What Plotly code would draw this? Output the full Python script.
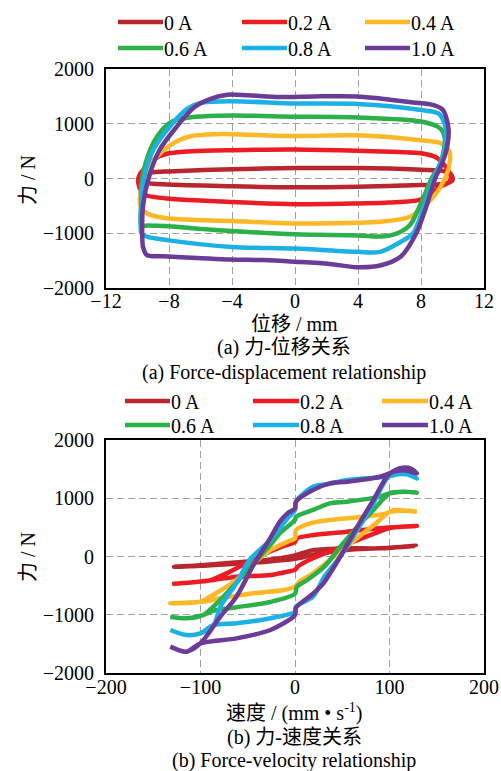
import plotly.graph_objects as go

# ---------------- data ----------------
CURRENTS = ["0 A", "0.2 A", "0.4 A", "0.6 A", "0.8 A", "1.0 A"]
COLORS = ["#b8272e", "#ed1c24", "#fdb827", "#2bb04a", "#1cb1e6", "#6a3c97"]

X_TICKS_A = [-12, -8, -4, 0, 4, 8, 12]
X_TICKS_B = [-200, -100, 0, 100, 200]
Y_TICKS = [-2000, -1000, 0, 1000, 2000]

# (a) force-displacement loops: displacement (mm), force (N)
DISP_00 = [-9.9, -9.6, -9.0, -8.0, -4.0, 0.0, 4.0, 8.0, 9.4, 9.9, 10.0, 9.4, 8.0, 4.0, 0.0, -4.0, -8.0, -9.5, -9.9]
FORCE_D_00 = [0, 80, 115, 130, 170, 190, 190, 160, 140, 80, -30, -100, -120, -150, -160, -140, -110, -75, 0]

DISP_02 = [-9.95, -9.8, -9.4, -8.8, -8.0, -6.5, -4.0, 0.0, 4.0, 8.0, 9.0, 9.6, 9.9, 9.8, 9.1, 8.0, 6.0, 4.0, 0.0, -4.0, -8.15, -9.4, -9.75, -9.95, -9.95]
FORCE_D_02 = [0, 100, 220, 380, 460, 500, 518, 530, 506, 460, 380, 200, 20, -60, -170, -380, -440, -455, -470, -430, -365, -310, -240, -80, 0]

DISP_04 = [-9.85, -9.8, -9.6, -9.2, -8.5, -7.5, -6.5, -5.0, -4.0, 0.0, 4.0, 8.0, 9.3, 9.8, 9.85, 9.6, 8.8, 7.3, 5.4, 4.0, 0.0, -4.0, -8.0, -9.3, -9.7, -9.85]
FORCE_D_04 = [-450, -250, 0, 250, 480, 680, 780, 810, 810, 775, 790, 700, 640, 500, 350, 50, -330, -700, -790, -810, -820, -775, -730, -650, -560, -450]

DISP_06 = [-9.75, -9.75, -9.7, -9.2, -8.6, -7.8, -6.8, -5.5, -4.0, 0.0, 4.0, 8.0, 9.2, 9.5, 9.4, 9.1, 8.67, 8.0, 7.3, 6.5, 5.5, 4.0, 0.0, -4.0, -6.0, -8.0, -9.3, -9.75]
FORCE_D_06 = [-850, -400, 0, 520, 830, 1040, 1110, 1140, 1150, 1130, 1115, 1040, 920, 750, 450, 200, 0, -450, -850, -1000, -1060, -1040, -1020, -960, -920, -870, -860, -850]

DISP_08 = [-9.75, -9.75, -9.6, -9.0, -7.8, -6.8, -6.0, -4.0, 0.0, 4.0, 8.0, 9.1, 9.5, 9.6, 9.4, 8.8, 8.2, 7.5, 6.7, 5.4, 4.0, 0.0, -4.0, -8.0, -9.4, -9.75]
FORCE_D_08 = [-1000, -500, 0, 520, 1000, 1280, 1380, 1410, 1370, 1360, 1250, 1190, 1000, 780, 400, 0, -500, -1000, -1160, -1340, -1340, -1280, -1250, -1130, -1060, -1000]

DISP_10 = [-9.7, -9.65, -9.3, -8.6, -7.5, -6.4, -5.4, -4.3, -3.0, -1.0, 1.2, 3.9, 5.4, 7.5, 8.8, 9.4, 9.75, 9.6, 9.3, 8.9, 8.35, 7.7, 6.7, 5.4, 3.9, 2.2, 0.0, -2.0, -4.1, -6.2, -8.4, -9.4, -9.65, -9.7]
FORCE_D_10 = [-1000, -500, 0, 520, 950, 1300, 1450, 1530, 1520, 1490, 1500, 1500, 1460, 1390, 1340, 1250, 900, 500, 250, 0, -500, -1000, -1430, -1590, -1620, -1560, -1520, -1490, -1480, -1450, -1420, -1400, -1250, -1000]

# (b) force-velocity loops: velocity (mm/s), force (N)
VEL_00 = [-128, -100, -60, -30, 0, 20, 55, 90, 128, 100, 60, 30, 0, -30, -60, -100, -128]
FORCE_V_00 = [-175, -150, -100, -60, 20, 110, 140, 140, 185, 150, 120, 60, -40, -90, -120, -160, -175]

VEL_02 = [-130, -110, -90, -70, -50, -30, -10, 0, 2, 20, 55, 90, 129, 100, 90, 62, 41, 19, 3, 0, -8, -26, -62, -86, -110, -130]
FORCE_V_02 = [-470, -445, -410, -270, -100, 60, 190, 250, 310, 370, 426, 484, 524, 490, 430, 254, 112, -30, -170, -230, -260, -318, -347, -403, -445, -470]

VEL_04 = [-132, -100, -90, -62, -44, -26, -8, 0, 1, 16, 37, 72, 97, 104, 115, 129, 115, 100, 85, 72, 55, 37, 19, 5, 0, -12, -44, -79, -97, -132]
FORCE_V_04 = [-804, -775, -690, -403, -117, 112, 254, 312, 455, 570, 627, 683, 740, 798, 790, 770, 790, 760, 560, 398, 170, -60, -288, -430, -518, -575, -632, -718, -775, -804]

VEL_06 = [-132, -115, -97, -80, -62, -44, -26, -16, 0, 1, 19, 37, 55, 90, 100, 115, 129, 115, 100, 83, 66, 48, 31, 13, 2, 0, -26, -62, -86, -97, -115, -132]
FORCE_V_06 = [-1033, -1061, -1004, -760, -450, -120, 200, 400, 627, 684, 800, 913, 941, 1027, 1084, 1113, 1096, 1110, 1084, 798, 512, 170, -175, -403, -520, -640, -780, -870, -930, -1004, -1061, -1033]

VEL_08 = [-132, -115, -100, -86, -79, -62, -48, -26, -8, 0, 1, 19, 37, 55, 90, 100, 118, 129, 118, 100, 83, 66, 48, 31, 19, 1, 0, -26, -62, -86, -100, -115, -132]
FORCE_V_08 = [-1262, -1348, -1318, -1176, -861, -461, -60, 283, 655, 798, 941, 1198, 1250, 1313, 1360, 1383, 1428, 1342, 1410, 1383, 913, 455, 0, -347, -690, -861, -947, -1061, -1147, -1176, -1318, -1348, -1262]

VEL_10 = [-132, -115, -100, -79, -62, -44, -26, -16, -8, 0, 1, 19, 37, 55, 90, 100, 111, 122, 129, 115, 100, 83, 66, 48, 30, 19, 1, 0, -26, -62, -100, -115, -132]
FORCE_V_10 = [-1548, -1634, -1490, -1033, -690, -150, 320, 598, 740, 827, 941, 1142, 1256, 1284, 1370, 1428, 1514, 1514, 1428, 1480, 1420, 970, 512, 0, -461, -640, -880, -1004, -1262, -1405, -1490, -1634, -1548]

DISP = [DISP_00, DISP_02, DISP_04, DISP_06, DISP_08, DISP_10]
FORCE_D = [FORCE_D_00, FORCE_D_02, FORCE_D_04, FORCE_D_06, FORCE_D_08, FORCE_D_10]
VEL = [VEL_00, VEL_02, VEL_04, VEL_06, VEL_08, VEL_10]
FORCE_V = [FORCE_V_00, FORCE_V_02, FORCE_V_04, FORCE_V_06, FORCE_V_08, FORCE_V_10]

# ---------------- figure ----------------
W, H = 501, 771
FONT = "Liberation Serif, Times New Roman, Noto Sans CJK SC, serif"
FS = 20
LW = 4.5

def px(x):
    return x / W

def py(y):
    return 1 - y / H

fig = go.Figure()
for i in range(6):
    fig.add_trace(go.Scatter(x=DISP[i], y=FORCE_D[i], mode="lines", name=CURRENTS[i],
                             line=dict(color=COLORS[i], width=LW, shape="spline", smoothing=0.8),
                             xaxis="x", yaxis="y", showlegend=False, hoverinfo="skip"))
for i in range(6):
    fig.add_trace(go.Scatter(x=VEL[i], y=FORCE_V[i], mode="lines", name=CURRENTS[i],
                             line=dict(color=COLORS[i], width=LW, shape="spline", smoothing=0.8),
                             xaxis="x2", yaxis="y2", showlegend=False, hoverinfo="skip"))

axis_common = dict(showline=True, mirror=True, linecolor="black", linewidth=2,
                   showgrid=True, gridcolor="#a0a0a0", gridwidth=1.3, griddash="7px,4px",
                   zeroline=False, ticks="", tickfont=dict(family=FONT, size=FS, color="black"),
                   tickmode="array", automargin=False)

dom_x = [px(106), px(484)]
fig.update_layout(
    template="none",
    width=W, height=H, margin=dict(l=0, r=0, t=0, b=0, pad=0),
    paper_bgcolor="white", plot_bgcolor="white",
    font=dict(family=FONT, size=FS, color="black"),
    xaxis=dict(domain=dom_x, range=[-12, 12], tickvals=X_TICKS_A,
               ticktext=[str(v).replace("-", "\u2212") for v in X_TICKS_A],
               anchor="y", ticklabelstandoff=-6, **axis_common),
    yaxis=dict(domain=[py(288), py(69)], range=[-2000, 2000], tickvals=Y_TICKS,
               ticktext=[str(v).replace("-", "\u2212") for v in Y_TICKS],
               anchor="x", ticklabelstandoff=6, **axis_common),
    xaxis2=dict(domain=dom_x, range=[-200, 200], tickvals=X_TICKS_B,
                ticktext=[str(v).replace("-", "\u2212") for v in X_TICKS_B],
                anchor="y2", ticklabelstandoff=-5, **axis_common),
    yaxis2=dict(domain=[py(673), py(440)], range=[-2000, 2000], tickvals=Y_TICKS,
                ticktext=[str(v).replace("-", "\u2212") for v in Y_TICKS],
                anchor="x2", ticklabelstandoff=6, **axis_common),
)

shapes = []
annotations = []

def legend(rows_y, cols_x0, cols_x1):
    for i, name in enumerate(CURRENTS):
        r, c = divmod(i, 3)
        y = rows_y[r]
        shapes.append(dict(type="line", xref="paper", yref="paper",
                           x0=px(cols_x0[c]), x1=px(cols_x1[c]), y0=py(y), y1=py(y),
                           line=dict(color=COLORS[i], width=LW)))
        annotations.append(dict(xref="paper", yref="paper", x=px(cols_x1[c] - 1), y=py(y + 1),
                                text=name, showarrow=False, xanchor="left", yanchor="middle",
                                font=dict(family=FONT, size=FS, color="black")))

legend([22, 48], [118, 242, 365], [163, 287, 410])
legend([401, 425], [125, 253, 382], [170, 299, 428])

def text(x, y, t, angle=0):
    annotations.append(dict(xref="paper", yref="paper", x=px(x), y=py(y), text=t,
                            showarrow=False, xanchor="center", yanchor="middle", textangle=angle,
                            font=dict(family=FONT, size=FS, color="black")))

text(28, 180, "力 / N", -90)
text(28, 557, "力 / N", -90)
text(294, 324, "位移 / mm")
text(284, 348, "(a) 力-位移关系")
text(284, 372, "(a) Force-displacement relationship")
text(294, 712, "速度 / (mm • s<sup>-1</sup>)")
text(294, 737, "(b) 力-速度关系")
text(294, 760, "(b) Force-velocity relationship")

fig.update_layout(shapes=shapes, annotations=annotations)
fig.write_html("out.html")
